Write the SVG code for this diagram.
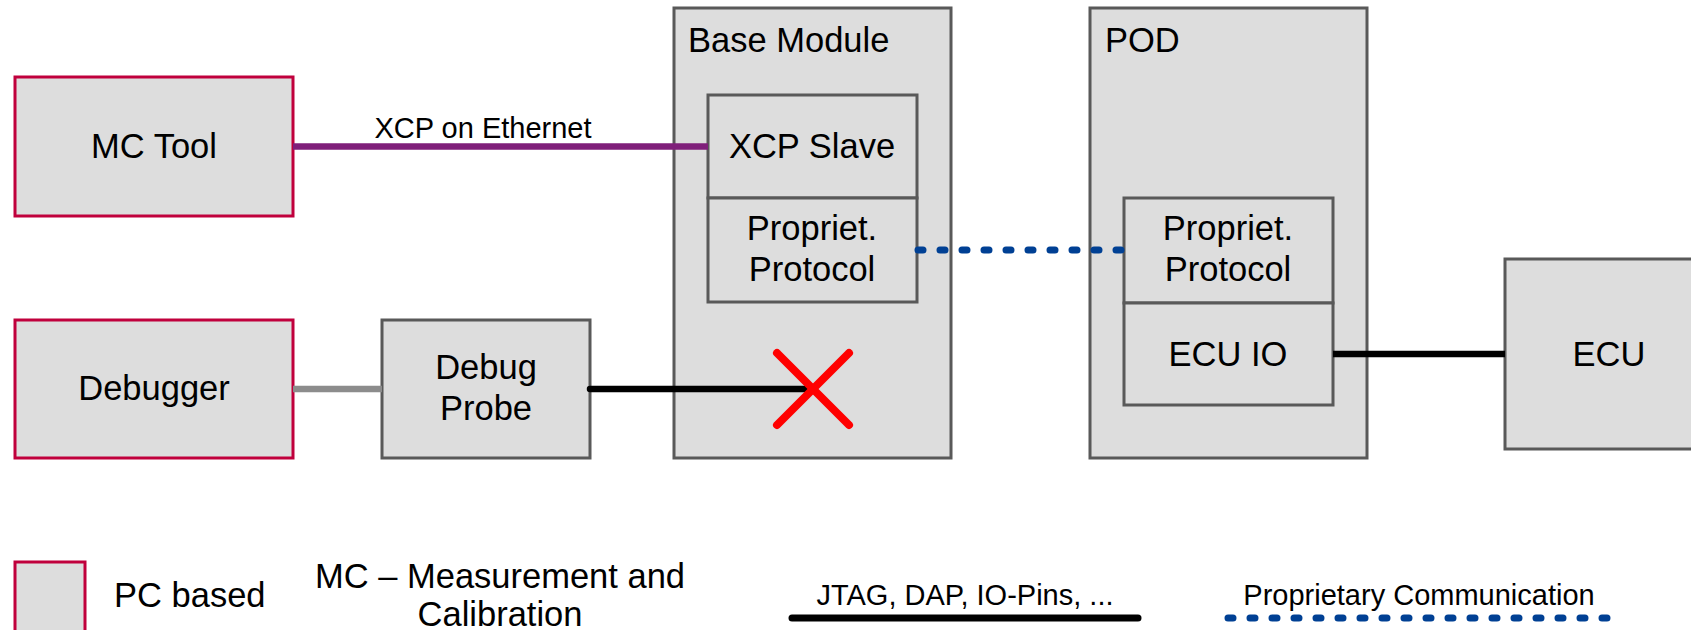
<svg xmlns="http://www.w3.org/2000/svg" width="1691" height="630" viewBox="0 0 1691 630">
<style>
.box{fill:#dddddd;stroke:#595959;stroke-width:3}
.pc{fill:#dddddd;stroke:#c0003c;stroke-width:3}
.t{font-family:"Liberation Sans",Arial,sans-serif;font-size:34.5px;fill:#000}
.c{text-anchor:middle}
.s{font-family:"Liberation Sans",Arial,sans-serif;font-size:29px;fill:#000}
.ln{fill:none;stroke-width:6.5}
.dot{fill:none;stroke:#004094;stroke-width:7;stroke-linecap:round;stroke-dasharray:5 17}
</style>
<rect width="1691" height="630" fill="#ffffff"/>
<g id="mc-tool"><rect class="pc" x="15" y="77" width="278" height="139"/><text class="t c" x="154" y="158">MC Tool</text></g>
<g id="debugger"><rect class="pc" x="15" y="320" width="278" height="138"/><text class="t c" x="154" y="400">Debugger</text></g>
<g id="debug-probe"><rect class="box" x="382" y="320" width="208" height="138"/><text class="t c" x="486" y="379">Debug</text><text class="t c" x="486" y="420">Probe</text></g>
<g id="base-module"><rect class="box" x="674" y="8" width="277" height="450"/><text class="t" x="688" y="52">Base Module</text>
<g id="xcp-slave"><rect class="box" x="708" y="95" width="209" height="103"/><text class="t c" x="812" y="158">XCP Slave</text></g>
<g id="bm-protocol"><rect class="box" x="708" y="198" width="209" height="104"/><text class="t c" x="812" y="240">Propriet.</text><text class="t c" x="812" y="281">Protocol</text></g>
</g>
<g id="pod"><rect class="box" x="1090" y="8" width="277" height="450"/><text class="t" x="1105" y="52">POD</text>
<g id="pod-protocol"><rect class="box" x="1124" y="198" width="209" height="105"/><text class="t c" x="1228" y="240">Propriet.</text><text class="t c" x="1228" y="281">Protocol</text></g>
<g id="ecu-io"><rect class="box" x="1124" y="303" width="209" height="102"/><text class="t c" x="1228" y="366">ECU IO</text></g>
</g>
<g id="ecu"><rect class="box" x="1505" y="259" width="220" height="190"/><text class="t c" x="1609" y="366">ECU</text></g>
<g id="connectors">
<line class="ln" x1="293" y1="146.5" x2="708" y2="146.5" stroke="#7f1f7a"/>
<text class="s c" x="483" y="138">XCP on Ethernet</text>
<line class="ln" x1="293" y1="389" x2="382" y2="389" stroke="#8c8c8c"/>
<line class="ln" x1="590" y1="389" x2="812" y2="389" stroke="#000" stroke-linecap="round"/>
<line class="dot" x1="918" y1="250" x2="1124" y2="250"/>
<line class="ln" x1="1333" y1="354" x2="1505" y2="354" stroke="#000"/>
</g>
<g id="blocked" stroke="#ff0000" stroke-width="8" stroke-linecap="round">
<line x1="777" y1="353" x2="849" y2="425"/><line x1="849" y1="353" x2="777" y2="425"/>
</g>
<g id="legend">
<rect class="pc" x="15" y="562" width="70" height="80"/>
<text class="t" x="114" y="607">PC based</text>
<text class="t c" x="500" y="588">MC – Measurement and</text>
<text class="t c" x="500" y="626">Calibration</text>
<text class="s c" x="965" y="605">JTAG, DAP, IO-Pins, ...</text>
<line x1="792" y1="618" x2="1138" y2="618" stroke="#000" stroke-width="7" stroke-linecap="round"/>
<text class="s c" x="1419" y="605">Proprietary Communication</text>
<line class="dot" x1="1228" y1="618" x2="1612" y2="618"/>
</g>
</svg>
